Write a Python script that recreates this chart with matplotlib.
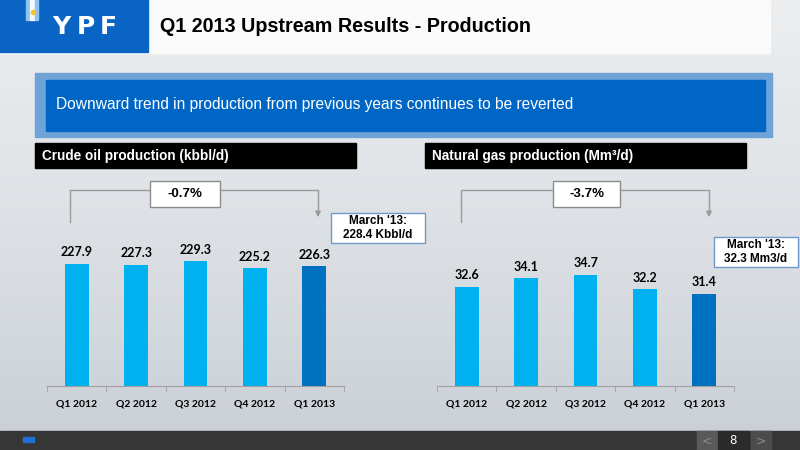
import numpy as np
import matplotlib
matplotlib.use('Agg')
import matplotlib.pyplot as plt
from matplotlib.patches import Rectangle


quarters = ["Q1 2012", "Q2 2012", "Q3 2012", "Q4 2012", "Q1 2013"]
oil_kbbl = [227.9, 227.3, 229.3, 225.2, 226.3]
gas_mm3 = [32.6, 34.1, 34.7, 32.2, 31.4]
oil_change = "-0.7%"
gas_change = "-3.7%"
oil_march = "March '13:\n228.4 Kbbl/d"
gas_march = "March '13:\n32.3 Mm3/d"

LIGHT = '#00b0f0'
DARK = '#0070c0'
GRAY = '#9a9a9a'

fig = plt.figure(figsize=(8, 4.5), dpi=100)

# background layer in pixel coords
bg = fig.add_axes([0, 0, 1, 1])
bg.set_xlim(0, 800)
bg.set_ylim(450, 0)
bg.axis('off')

grad = np.linspace(0, 1, 256).reshape(-1, 1)
cmap = matplotlib.colors.LinearSegmentedColormap.from_list('bgg', ['#eceef0', '#dde1e5', '#c9cfd5'])
bg.imshow(grad, extent=(0, 800, 450, 0), aspect='auto', cmap=cmap, zorder=0)

# header
bg.add_patch(Rectangle((0, 0), 770, 53, color='#fafafa', zorder=1))
bg.add_patch(Rectangle((0, 0), 148, 52, color='#0a64c4', zorder=2))
bg.add_patch(Rectangle((26, 0), 4, 20, color='#8cc4ee', zorder=3))
bg.add_patch(Rectangle((30, 0), 5, 20, color='#f4f8fc', zorder=3))
bg.add_patch(Rectangle((35, 0), 3, 20, color='#8cc4ee', zorder=3))
bg.plot([32.5], [12], 'o', color='#f2c12e', ms=3, zorder=4)
for lx, letter in zip([52, 77, 100], "YPF"):
    bg.text(lx, 27, letter, color='white', fontsize=18, fontweight='heavy',
            family='DejaVu Sans', va='center', ha='left', zorder=4)
bg.text(160, 27, "Q1 2013 Upstream Results - Production", color='black', fontsize=14.2,
        fontweight='bold', family='Liberation Sans', va='center', ha='left', zorder=4)

# banner
bg.add_patch(Rectangle((35, 73), 737, 64, color='#6fa3d8', zorder=1))
bg.add_patch(Rectangle((46, 80), 719, 51, color='#0066c6', zorder=2))
bg.text(56, 105, "Downward trend in production from previous years continues to be reverted",
        color='white', fontsize=11.2, family='Liberation Sans', va='center', ha='left', zorder=3)

# black section titles
bg.add_patch(Rectangle((35, 143), 321, 25, color='black', zorder=1))
bg.add_patch(Rectangle((425, 143), 321, 25, color='black', zorder=1))
bg.text(42, 156, "Crude oil production (kbbl/d)", color='white', fontsize=9.8,
        fontweight='bold', family='Liberation Sans', va='center', zorder=2)
bg.text(432, 156, "Natural gas production (Mm\u00b3/d)", color='white', fontsize=9.8,
        fontweight='bold', family='Liberation Sans', va='center', zorder=2)


def bracket(x0, x1, box_x, box_w, label):
    bg.plot([x0, x0, x1, x1], [222, 190, 190, 212], color=GRAY, lw=1, zorder=2)
    bg.annotate('', xy=(x1, 220), xytext=(x1, 208),
                arrowprops=dict(arrowstyle='-|>', color=GRAY, lw=1, mutation_scale=8), zorder=2)
    bg.add_patch(Rectangle((box_x, 181), box_w, 26, facecolor='white', edgecolor='#8c8c8c', lw=1, zorder=3))
    bg.text(box_x + box_w / 2, 194, label, fontsize=9.5, fontweight='bold',
            family='Liberation Sans', ha='center', va='center', zorder=4)


def march_box(x, y, w, h, label):
    bg.add_patch(Rectangle((x, y), w, h, facecolor='white', edgecolor='#7098cc', lw=1, zorder=3))
    bg.text(x + w / 2, y + h / 2, label, fontsize=8.5, fontweight='bold', family='Liberation Sans',
            ha='center', va='center', linespacing=1.3, zorder=4)


bracket(70, 318, 150, 70, oil_change)
bracket(461, 709, 553, 67, gas_change)
march_box(331, 213, 94, 30, oil_march)
march_box(714, 237, 84, 30, gas_march)

# footer
bg.add_patch(Rectangle((0, 431), 800, 19, color='#363636', zorder=1))
bg.add_patch(Rectangle((23, 437), 11, 5, color='#1f6fd0', zorder=2))
bg.add_patch(Rectangle((697, 431), 20, 19, color='#5a5a5a', zorder=2))
bg.add_patch(Rectangle((718, 431), 31, 19, color='#2b2b2b', zorder=2))
bg.add_patch(Rectangle((751, 431), 20, 19, color='#4c4c4c', zorder=2))
bg.text(707, 441, "<", color='#8a8a8a', fontsize=9, ha='center', va='center', zorder=3)
bg.text(761, 441, ">", color='#8a8a8a', fontsize=9, ha='center', va='center', zorder=3)
bg.text(733, 441, "8", color='white', fontsize=8.5, ha='center', va='center', zorder=3)


def bar_panel(left_px, values, ylim):
    ax = fig.add_axes([left_px / 800, (450 - 386) / 450, 297 / 800, 186 / 450])
    ax.patch.set_alpha(0)
    x = np.arange(len(values))
    colors = [LIGHT] * (len(values) - 1) + [DARK]
    bars = ax.bar(x, values, width=0.4, color=colors, zorder=2)
    ax.set_xlim(-0.5, len(values) - 0.5)
    ax.set_ylim(*ylim)
    for b, v in zip(bars, values):
        ax.annotate(f"{v:.1f}", (b.get_x() + b.get_width() / 2, v), xytext=(0, 4),
                    textcoords='offset points', ha='center', va='bottom',
                    fontsize=9, fontweight='bold', family='Lato')
    for s in ['top', 'right', 'left']:
        ax.spines[s].set_visible(False)
    ax.spines['bottom'].set_color('#a0a0a0')
    ax.set_yticks([])
    ax.set_xticks(x)
    ax.set_xticklabels(quarters, fontsize=7.5, fontweight='bold', family='Lato')
    ax.tick_params(axis='x', which='major', length=0, pad=10)
    ax.set_xticks(np.arange(-0.5, len(values)), minor=True)
    ax.tick_params(axis='x', which='minor', length=4, color='#a0a0a0')
    return ax


bar_panel(47, oil_kbbl, (154.7, 266.1))
bar_panel(437, gas_mm3, (15.27, 47.79))

plt.savefig('out.png', dpi=100)
